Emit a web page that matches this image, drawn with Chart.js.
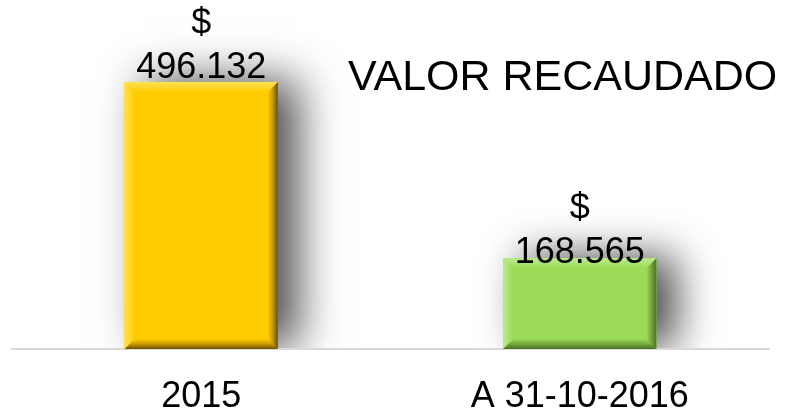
<!DOCTYPE html>
<html>
<head>
<meta charset="utf-8">
<script src="https://cdn.jsdelivr.net/npm/chart.js@4.4.1/dist/chart.umd.min.js"></script>
<style>
  html, body { margin: 0; padding: 0; background: #ffffff; }
  #wrap { width: 795px; height: 413px; position: relative; }
</style>
</head>
<body>
<div id="wrap"><canvas id="c" width="795" height="413"></canvas></div>
<script>
// Recaudo por periodo
const categories = ['2015', 'A 31-10-2016'];
const recaudado = [496132, 168565];
const chartTitle = 'VALOR RECAUDADO';
const currencySign = '$';

// Bar palettes: face, light bevel, dark bevel edge
const faces = ['#FFCC00', '#9BDB58'];
const bevelLight = ['#FFE25A', '#BDEB8E'];
const bevelDark = ['#6B5000', '#4A7222'];
const bevelMid = ['#C99A00', '#75A83E'];

function fmtMiles(v) {
  return String(Math.round(v)).replace(/\B(?=(\d{3})+(?!\d))/g, '.');
}

const FONT = '"Liberation Sans", Arial, sans-serif';

const shadowPlugin = {
  id: 'barShadow',
  beforeDatasetsDraw(chart) {
    const ctx = chart.ctx;
    const meta = chart.getDatasetMeta(0);
    ctx.save();
    ctx.beginPath();
    ctx.rect(0, 0, chart.width, chart.chartArea.bottom - 1);
    ctx.clip();
    meta.data.forEach((bar, i) => {
      const l = bar.x - bar.width / 2, r = bar.x + bar.width / 2;
      const t = bar.y, b = bar.base;
      ctx.save();
      ctx.shadowColor = 'rgba(0,0,0,0.7)';
      ctx.shadowBlur = 42;
      ctx.shadowOffsetX = 20;
      ctx.shadowOffsetY = -2;
      ctx.fillStyle = faces[i];
      ctx.fillRect(l, t, r - l, b - t);
      ctx.restore();
    });
    ctx.restore();
  }
};

const bevelPlugin = {
  id: 'bevel',
  afterDatasetsDraw(chart) {
    const ctx = chart.ctx;
    const meta = chart.getDatasetMeta(0);
    const w = 10;
    meta.data.forEach((bar, i) => {
      const l = bar.x - bar.width / 2, r = bar.x + bar.width / 2;
      const t = bar.y, b = bar.base;
      ctx.save();
      // top
      let g = ctx.createLinearGradient(0, t, 0, t + w);
      g.addColorStop(0, bevelLight[i]);
      g.addColorStop(1, faces[i]);
      ctx.fillStyle = g;
      ctx.beginPath();
      ctx.moveTo(l, t); ctx.lineTo(r, t); ctx.lineTo(r - w, t + w); ctx.lineTo(l + w, t + w);
      ctx.closePath(); ctx.fill();
      // left
      g = ctx.createLinearGradient(l, 0, l + w, 0);
      g.addColorStop(0, bevelLight[i]);
      g.addColorStop(1, faces[i]);
      ctx.fillStyle = g;
      ctx.beginPath();
      ctx.moveTo(l, t); ctx.lineTo(l + w, t + w); ctx.lineTo(l + w, b - w); ctx.lineTo(l, b);
      ctx.closePath(); ctx.fill();
      // bottom
      g = ctx.createLinearGradient(0, b - w, 0, b);
      g.addColorStop(0, faces[i]);
      g.addColorStop(0.5, bevelMid[i]);
      g.addColorStop(1, bevelDark[i]);
      ctx.fillStyle = g;
      ctx.beginPath();
      ctx.moveTo(l, b); ctx.lineTo(l + w, b - w); ctx.lineTo(r - w, b - w); ctx.lineTo(r, b);
      ctx.closePath(); ctx.fill();
      // right
      g = ctx.createLinearGradient(r - w, 0, r, 0);
      g.addColorStop(0, faces[i]);
      g.addColorStop(0.45, bevelMid[i]);
      g.addColorStop(1, bevelDark[i]);
      ctx.fillStyle = g;
      ctx.beginPath();
      ctx.moveTo(r, t); ctx.lineTo(r, b); ctx.lineTo(r - w, b - w); ctx.lineTo(r - w, t + w);
      ctx.closePath(); ctx.fill();
      ctx.restore();
    });
  }
};

const labelPlugin = {
  id: 'valueLabels',
  afterDatasetsDraw(chart, args, opts) {
    const ctx = chart.ctx;
    const meta = chart.getDatasetMeta(0);
    const values = chart.data.datasets[0].data;
    ctx.save();
    ctx.fillStyle = '#000000';
    ctx.font = '36px ' + FONT;
    ctx.textAlign = 'center';
    ctx.textBaseline = 'alphabetic';
    meta.data.forEach((bar, i) => {
      const base = bar.y + opts.shift[i];
      ctx.fillText(fmtMiles(values[i]), bar.x, base);
      ctx.fillText(currencySign, bar.x, base - 44);
    });
    ctx.restore();
  }
};

const titlePlugin = {
  id: 'cornerTitle',
  afterDraw(chart) {
    const ctx = chart.ctx;
    ctx.save();
    ctx.fillStyle = '#000000';
    ctx.font = '43px ' + FONT;
    ctx.textAlign = 'left';
    ctx.textBaseline = 'alphabetic';
    ctx.fillText(chartTitle, 348, 90);
    ctx.restore();
  }
};

new Chart(document.getElementById('c'), {
  type: 'bar',
  data: {
    labels: categories,
    datasets: [{
      data: recaudado,
      backgroundColor: faces,
      borderWidth: 0,
      barPercentage: 0.405,
      categoryPercentage: 1.0
    }]
  },
  options: {
    responsive: false,
    animation: false,
    layout: { padding: { top: 26, left: 12, right: 26, bottom: 0 } },
    plugins: {
      legend: { display: false },
      title: { display: false },
      tooltip: { enabled: false },
      valueLabels: { shift: [-4, 5] }
    },
    scales: {
      x: {
        afterFit(scale) { scale.height = 64; },
        grid: { display: false, drawTicks: false },
        border: { display: true, color: '#D9D9D9', width: 2 },
        ticks: { color: '#000000', font: { family: FONT, size: 36 }, padding: 26, maxRotation: 0 }
      },
      y: {
        display: false,
        min: 0,
        max: 600000
      }
    }
  },
  plugins: [shadowPlugin, bevelPlugin, labelPlugin, titlePlugin]
});
</script>
</body>
</html>
